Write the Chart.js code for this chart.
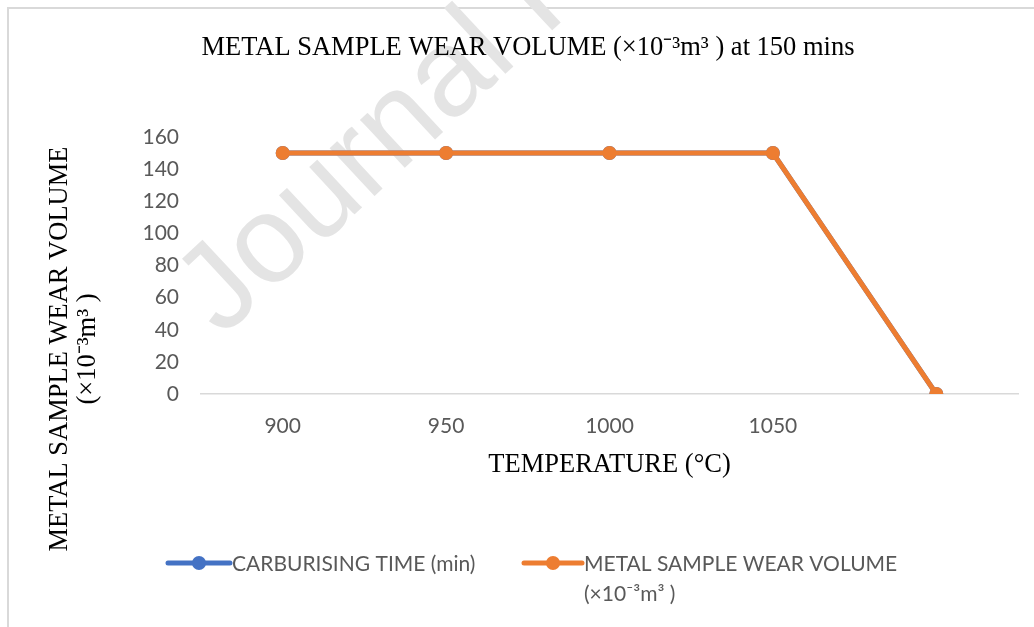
<!DOCTYPE html>
<html>
<head>
<meta charset="utf-8">
<script src="https://cdn.jsdelivr.net/npm/chart.js@4.4.1/dist/chart.umd.min.js"></script>
<style>
  html, body { margin: 0; padding: 0; background: #fff; }
  #wrap { width: 1034px; height: 627px; }
</style>
</head>
<body>
<div id="wrap"><canvas id="wearChart" width="1034" height="627"></canvas></div>
<script>
// values
const temperatures = ['900', '950', '1000', '1050', ''];
const carburisingTime = [150, 150, 150, 150, 0];
const wearVolume = [150, 150, 150, 150, 0];
const yMin = 0, yMax = 160, yStep = 20;

const titleText = 'METAL SAMPLE WEAR VOLUME (×10⁻³m³ ) at 150 mins';
const yTitleLines = ['METAL SAMPLE WEAR VOLUME', '(×10⁻³m³ )'];
const xTitleText = 'TEMPERATURE (°C)';
const seriesNames = ['CARBURISING TIME (min)', ['METAL SAMPLE WEAR VOLUME', '(×10⁻³m³ )']];

const BLUE = '#4472C4';
const ORANGE = '#ED7D31';
const serif = '"Liberation Serif", "Times New Roman", serif';
const sans = 'Lato, "Open Sans", sans-serif';

const decorations = {
  id: 'decorations',
  beforeDraw(chart) {
    const c = chart.ctx;
    c.save();
    c.fillStyle = '#fff';
    c.fillRect(0, 0, chart.width, chart.height);
    // frame (top and left edges only)
    c.strokeStyle = '#d9d9d9';
    c.lineWidth = 2;
    c.beginPath();
    c.moveTo(8, chart.height);
    c.lineTo(8, 8);
    c.lineTo(chart.width, 8);
    c.stroke();
    // watermark
    c.translate(222, 338);
    c.rotate(-43 * Math.PI / 180);
    c.font = '124px "Liberation Sans", Arial, sans-serif';
    c.fillStyle = '#e4e4e4';
    c.fillText('Journal Pre-proof', 0, 0);
    c.restore();
  },
  afterDraw(chart) {
    const c = chart.ctx;
    c.save();
    // main title
    c.fillStyle = '#000';
    c.font = '26.5px ' + serif;
    c.textAlign = 'center';
    c.textBaseline = 'alphabetic';
    c.fillText(titleText, 528, 55);

    // y axis title, rotated
    c.save();
    c.translate(0, 349);
    c.rotate(-Math.PI / 2);
    c.fillText(yTitleLines[0], 0, 67);
    c.fillText(yTitleLines[1], 0, 95);
    c.restore();

    // legend
    const items = [
      { color: BLUE, x0: 168, x1: 230, text: seriesNames[0] },
      { color: ORANGE, x0: 524, x1: 582, text: seriesNames[1] }
    ];
    const ly = 563;
    c.font = '21px ' + sans;
    c.textAlign = 'left';
    items.forEach(it => {
      c.strokeStyle = it.color;
      c.lineWidth = 5;
      c.lineCap = 'round';
      c.beginPath();
      c.moveTo(it.x0, ly);
      c.lineTo(it.x1, ly);
      c.stroke();
      c.fillStyle = it.color;
      c.beginPath();
      c.arc((it.x0 + it.x1) / 2, ly, 7, 0, Math.PI * 2);
      c.fill();
      c.fillStyle = '#595959';
      const lines = Array.isArray(it.text) ? it.text : [it.text];
      lines.forEach((t, i) => c.fillText(t, it.x1 + 2, ly + 7.5 + i * 30));
    });
    c.restore();
  }
};

new Chart(document.getElementById('wearChart'), {
  type: 'line',
  data: {
    labels: temperatures,
    datasets: [
      {
        label: 'CARBURISING TIME (min)',
        data: carburisingTime,
        borderColor: BLUE,
        backgroundColor: BLUE,
        borderWidth: 5,
        pointRadius: 7,
        pointBorderWidth: 0,
        tension: 0,
        order: 2
      },
      {
        label: 'METAL SAMPLE WEAR VOLUME (×10⁻³m³ )',
        data: wearVolume,
        borderColor: ORANGE,
        backgroundColor: ORANGE,
        borderWidth: 5,
        pointRadius: 7,
        pointBorderWidth: 0,
        tension: 0,
        order: 1
      }
    ]
  },
  options: {
    responsive: false,
    animation: false,
    layout: { padding: { left: 141, right: 16, top: 137, bottom: 146 } },
    plugins: {
      legend: { display: false },
      title: { display: false },
      tooltip: { enabled: false }
    },
    scales: {
      x: {
        offset: true,
        grid: { display: false, drawTicks: false },
        border: { display: true, color: '#d9d9d9', width: 1.5 },
        ticks: { color: '#595959', font: { family: sans, size: 21 }, padding: 20, maxRotation: 0 },
        title: {
          display: true,
          text: xTitleText,
          color: '#000',
          font: { family: serif, size: 26.5, lineHeight: 1.2 },
          padding: 0
        },
        afterFit(s) { s.height = 87; }
      },
      y: {
        min: yMin,
        max: yMax,
        grid: { display: false, drawTicks: false },
        border: { display: false },
        ticks: { stepSize: yStep, color: '#595959', font: { family: sans, size: 21 }, padding: 22 },
        afterFit(s) { s.width = 60; }
      }
    }
  },
  plugins: [decorations]
});
</script>
</body>
</html>
